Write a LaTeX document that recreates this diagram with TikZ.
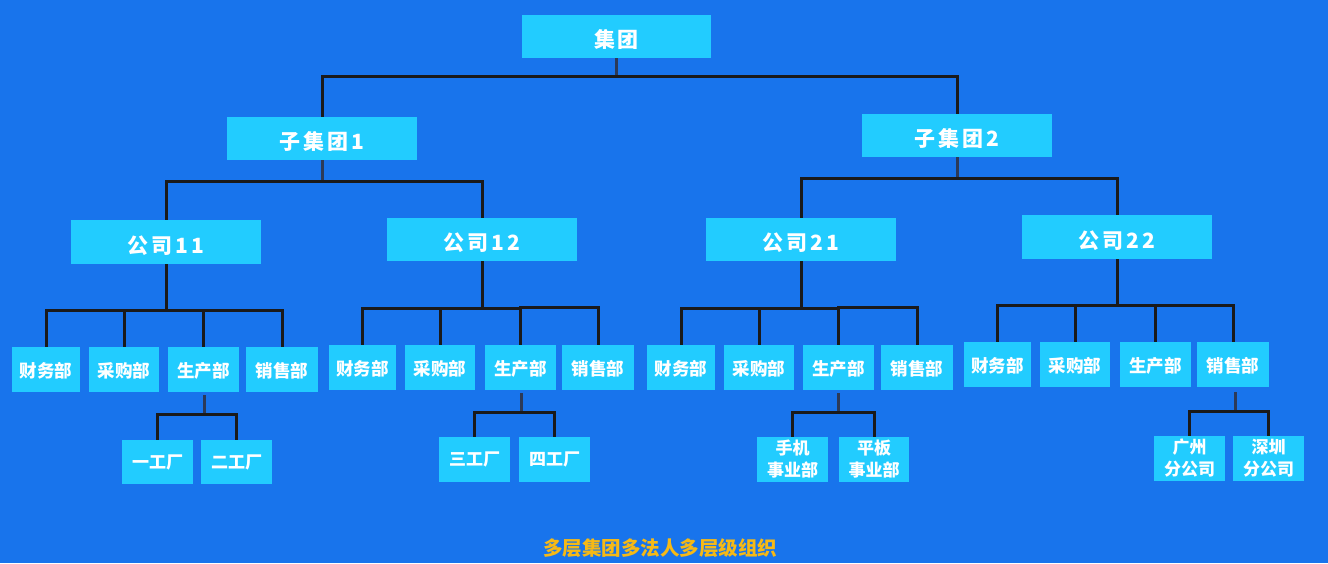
\documentclass[tikz,border=0pt]{standalone}
\usepackage{fontspec}
\setmainfont{Noto Sans CJK SC}
\newfontfamily\bigfont{Noto Sans CJK SC}[LetterSpace=14]
\definecolor{bg}{HTML}{1874EC}
\definecolor{boxc}{HTML}{22CCFF}
\definecolor{linec}{HTML}{1A1A1A}
\definecolor{stemc}{HTML}{2C3A58}
\definecolor{titlec}{HTML}{F6B916}
\begin{document}
\begin{tikzpicture}[x=1pt,y=-1pt,
  box/.style={fill=boxc,text=white,inner sep=0pt,align=center,font=\bfseries},
  lvA/.style={box,minimum width=190pt,minimum height=43pt,text height=22pt,text depth=0pt,font=\bigfont\bfseries\fontsize{21}{24}\selectfont},
  lvB/.style={box,minimum height=45pt,text height=18pt,text depth=2pt,font=\bfseries\fontsize{17.5}{21}\selectfont},
  lvC/.style={box,minimum width=71pt,minimum height=45pt,font=\bfseries\fontsize{17}{22}\selectfont},
  bus/.style={draw=linec,line width=3pt},
  stem/.style={draw=stemc,line width=3pt}]
\fill[bg] (0,0) rectangle (1328,563);
\useasboundingbox (0,0) rectangle (1328,563);
% level 1
\node[lvA,minimum width=189pt] (g) at (616.5,36.5) {集团};
% level 2
\node[lvA] (s1) at (322,138.5) {子集团1};
\node[lvA] (s2) at (957,135.5) {子集团2};
% level 3
\node[lvA,minimum height=44pt] (c11) at (166,242) {公司11};
\node[lvA] (c12) at (482,239.5) {公司12};
\node[lvA] (c21) at (801,239.5) {公司21};
\node[lvA,minimum height=44pt] (c22) at (1117,237) {公司22};
% level 4
\node[lvB,minimum width=68pt] (a1) at (46,369.5) {财务部};
\node[lvB,minimum width=70pt] (a2) at (124,369.5) {采购部};
\node[lvB,minimum width=71pt] (a3) at (203.5,369.5) {生产部};
\node[lvB,minimum width=72pt] (a4) at (282,369.5) {销售部};
\node[lvB,minimum width=67pt] (b1) at (362.5,367.5) {财务部};
\node[lvB,minimum width=70pt] (b2) at (440,367.5) {采购部};
\node[lvB,minimum width=71pt] (b3) at (520.5,367.5) {生产部};
\node[lvB,minimum width=72pt] (b4) at (598,367.5) {销售部};
\node[lvB,minimum width=68pt] (d1) at (681,367.5) {财务部};
\node[lvB,minimum width=70pt] (d2) at (759,367.5) {采购部};
\node[lvB,minimum width=71pt] (d3) at (838.5,367.5) {生产部};
\node[lvB,minimum width=72pt] (d4) at (917,367.5) {销售部};
\node[lvB,minimum width=67pt] (e1) at (997.5,364.5) {财务部};
\node[lvB,minimum width=70pt] (e2) at (1075,364.5) {采购部};
\node[lvB,minimum width=71pt] (e3) at (1155.5,364.5) {生产部};
\node[lvB,minimum width=72pt] (e4) at (1233,364.5) {销售部};
% level 5
\node[lvC,minimum height=44pt] (f1) at (157.5,462) {一工厂};
\node[lvC,minimum height=44pt] (f2) at (236.5,462) {二工厂};
\node[lvC] (t1) at (474.5,459.5) {三工厂};
\node[lvC] (t2) at (554.5,459.5) {四工厂};
\node[lvC] (h1) at (792.5,459.5) {手机\\事业部};
\node[lvC,minimum width=70pt] (h2) at (874,459.5) {平板\\事业部};
\node[lvC] (k1) at (1189.5,458.5) {广州\\分公司};
\node[lvC] (k2) at (1268.5,458.5) {深圳\\分公司};
% title
\node[text=titlec,font=\bfseries\fontsize{19.5}{22}\selectfont,inner sep=0pt] (title) at (660,548) {多层集团多法人多层级组织};
% connectors level 1-2
\draw[stem] (g.south) -- (g.south |- 0,76);
\draw[bus] (s1.north) |- (s2.north |- 0,76) -- (s2.north);
% s1
\draw[stem] (s1.south) -- (s1.south |- 0,180);
\draw[bus] (c11.north) |- (c12.north |- 0,181) -- (c12.north);
% s2
\draw[stem] (s2.south) -- (s2.south |- 0,177);
\draw[bus] (c21.north) |- (c22.north |- 0,178) -- (c22.north);
% c11
\draw[bus] (c11.south) -- (c11.south |- 0,310);
\draw[bus] (a1.north) |- (a4.north |- 0,310) -- (a4.north);
\draw[bus] (a2.north) -- (a2.north |- 0,310);
\draw[bus] (a3.north) -- (a3.north |- 0,310);
% c12
\draw[bus] (c12.south) -- (c12.south |- 0,308);
\draw[bus] (b1.north) |- (b3.north |- 0,308);
\draw[bus] (b3.north) |- (b4.north |- 0,307) -- (b4.north);
\draw[bus] (b2.north) -- (b2.north |- 0,308);
% c21
\draw[bus] (c21.south) -- (c21.south |- 0,308);
\draw[bus] (d1.north) |- (d3.north |- 0,308);
\draw[bus] (d3.north) |- (d4.north |- 0,307) -- (d4.north);
\draw[bus] (d2.north) -- (d2.north |- 0,308);
% c22
\draw[bus] (c22.south) -- (c22.south |- 0,305);
\draw[bus] (e1.north) |- (e4.north |- 0,305) -- (e4.north);
\draw[bus] (e2.north) -- (e2.north |- 0,305);
\draw[bus] (e3.north) -- (e3.north |- 0,305);
% level 4-5
\coordinate (a3s) at (204,395);
\draw[stem] (a3s) -- (a3s |- 0,413);
\draw[bus] (f1.north) |- (f2.north |- 0,414) -- (f2.north);
\coordinate (b3s) at (521,393);
\draw[stem] (b3s) -- (b3s |- 0,411);
\draw[bus] (t1.north) |- (t2.north |- 0,412) -- (t2.north);
\coordinate (d3s) at (838,393);
\draw[stem] (d3s) -- (d3s |- 0,411);
\draw[bus] (h1.north) |- (h2.north |- 0,412) -- (h2.north);
\coordinate (e4s) at (1235,392);
\draw[stem] (e4s) -- (e4s |- 0,410);
\draw[bus] (k1.north) |- (k2.north |- 0,411) -- (k2.north);
\end{tikzpicture}
\end{document}
